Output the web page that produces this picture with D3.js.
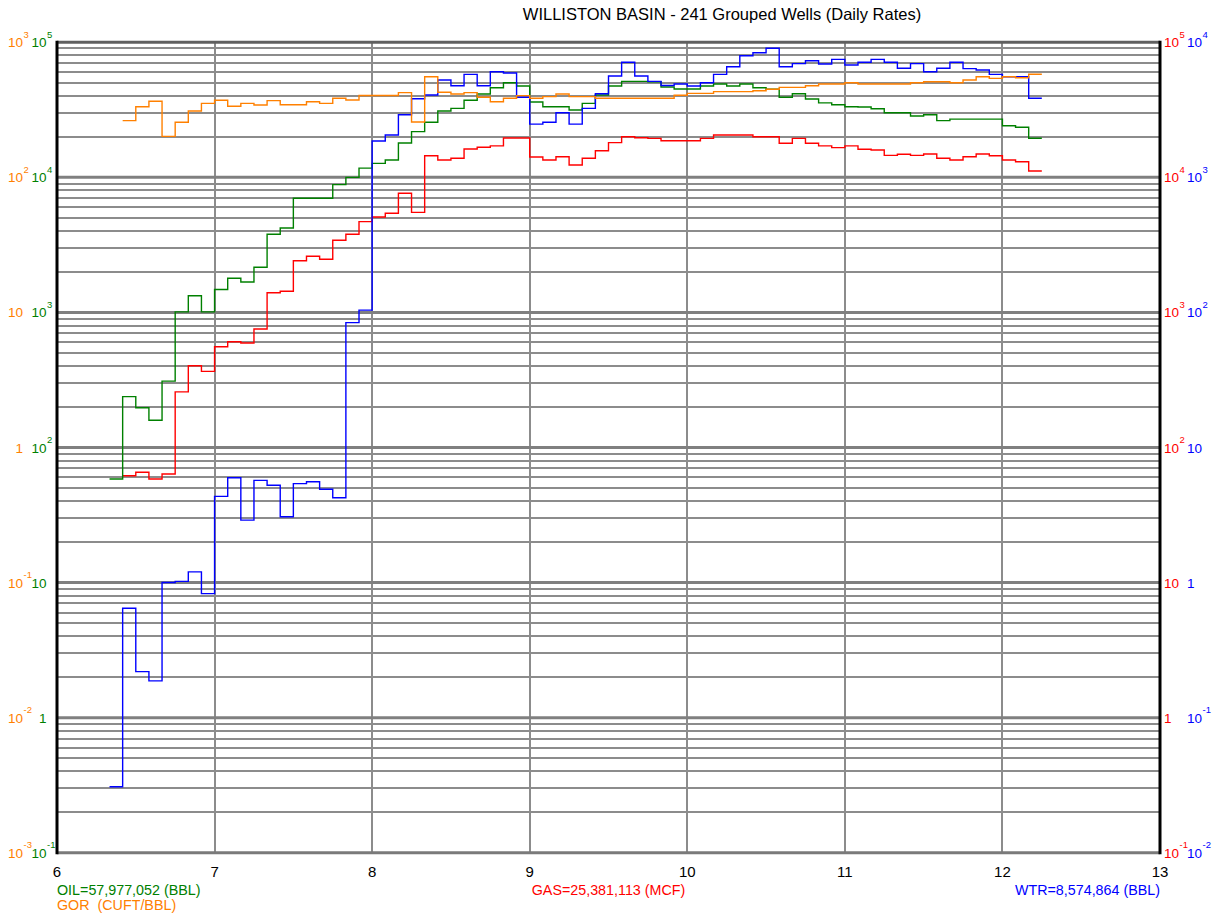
<!DOCTYPE html>
<html><head><meta charset="utf-8">
<script src="https://cdn.jsdelivr.net/npm/d3@7"></script>
<style>
body{margin:0;background:#fff}
text{font-family:"Liberation Sans",Arial,Helvetica,sans-serif}
</style>
</head><body>
<svg id="chart" width="1224" height="916"></svg>
<script>
// ---- DATA (monthly step values, first month starts at 6 + 4/12) ----
const firstMonth = 6 + 4 / 12;
const monthStep = 1 / 12;
const xTicks = [6, 7, 8, 9, 10, 11, 12, 13];

const oil = [58.5, 238, 197, 159, 310, 1010, 1330, 1010, 1480, 1790,
  1680, 2160, 3790, 4220, 7000, 7000, 7000, 8830, 10000, 11700,
  12700, 13450, 17950, 21800, 25600, 31000, 32400, 37200, 41400, 46100,
  50200, 47500, 36100, 33300, 33300, 31500, 35300, 40700, 47500, 51400,
  51400, 51000, 46700, 45100, 45100, 47500, 49100, 47500, 49100, 46100,
  44900, 39200, 41600, 38000, 35600, 34500, 33300, 33200, 32200, 30100,
  30100, 28500, 29100, 26300, 27000, 27000, 27000, 27000, 24100, 23500,
  19500];

const gas = [null, 61.8, 65.5, 58.5, 63.7, 258, 403, 366, 557, 607,
  594, 754, 1400, 1435, 2415, 2605, 2473, 3420, 3790, 4700,
  5090, 5420, 7620, 5510, 14450, 13450, 13840, 16200, 16700, 17100,
  19550, 19550, 14150, 13450, 14220, 12350, 13840, 15750, 18070, 20000,
  19660, 19450, 18670, 18670, 18670, 19450, 20600, 20600, 20600, 20000,
  20000, 17870, 19450, 17870, 17100, 16590, 17100, 16140, 15950, 14560,
  14830, 14560, 14890, 13840, 13450, 14220, 14890, 14450, 13450, 13060,
  11150];

const water = [0.0308, 0.645, 0.219, 0.187, 1.0, 1.02, 1.20, 0.828, 4.35, 5.97,
  2.90, 5.71, 5.25, 3.07, 5.40, 5.58, 4.91, 4.25, 84, 104,
  1860, 2060, 2910, 3820, 4070, 5260, 4770, 5790, 4770, 6060,
  5930, 3920, 2480, 2560, 3010, 2480, 3240, 4160, 5630, 7110,
  5630, 5140, 4790, 4910, 4750, 5020, 5790, 6590, 7960, 8370,
  9030, 6590, 6950, 7310, 6900, 7480, 6790, 7110, 7480, 7110,
  6420, 6950, 6060, 6420, 7110, 6380, 6240, 5790, 5560, 5560,
  3850];

const gor = [null, 263, 333, 366, 201, 256, 310, 353, 372, 336,
  353, 343, 370, 345, 345, 363, 353, 385, 374, 404,
  404, 404, 424, 257, 556, 427, 414, 424, 392, 363,
  385, 403, 385, 396, 414, 396, 396, 385, 385, 385,
  385, 385, 385, 405, 419, 419, 431, 431, 431, 438,
  449, 464, 464, 477, 491, 491, 502, 491, 491, 491,
  491, 502, 511, 511, 502, 526, 556, 541, 556, 547,
  580];

const gorExps = [-3, -2, -1, 0, 1, 2, 3];
const oilExps = [-1, 0, 1, 2, 3, 4, 5];
const gasExps = [-1, 0, 1, 2, 3, 4, 5];
const wtrExps = [-2, -1, 0, 1, 2, 3, 4];

const titleText = "WILLISTON BASIN - 241 Grouped Wells (Daily Rates)";
const oilLegend = "OIL=57,977,052 (BBL)";
const gorLegend = "GOR  (CUFT/BBL)";
const gasLegend = "GAS=25,381,113 (MCF)";
const wtrLegend = "WTR=8,574,864 (BBL)";

// ---- LAYOUT ----
const L = 57, R = 1160, T = 42.3, B = 852.7;
const C = {oil: "#008000", gas: "#ff0000", wtr: "#0000ff", gor: "#ff8000"};

const svg = d3.select("#chart");
const x = d3.scaleLinear().domain([6, 13]).range([L, R]);
const yOil = d3.scaleLog().domain([1e-1, 1e5]).range([B, T]);
const yGas = d3.scaleLog().domain([1e-1, 1e5]).range([B, T]);
const yWtr = d3.scaleLog().domain([1e-2, 1e4]).range([B, T]);
const yGor = d3.scaleLog().domain([1e-3, 1e3]).range([B, T]);

// grid: minor horizontal lines
const grid = svg.append("g");
const minor = [];
for (let e = -1; e < 5; e++) for (let m = 2; m <= 9; m++) minor.push(m * Math.pow(10, e));
grid.selectAll("line.minor").data(minor).join("line")
  .attr("x1", L).attr("x2", R)
  .attr("y1", d => Math.round(yOil(d))).attr("y2", d => Math.round(yOil(d)))
  .attr("stroke", "#8c8c8c").attr("stroke-width", 2);
// vertical lines
grid.selectAll("line.v").data(xTicks.slice(1, -1)).join("line")
  .attr("x1", d => Math.round(x(d))).attr("x2", d => Math.round(x(d)))
  .attr("y1", T).attr("y2", B)
  .attr("stroke", "#8c8c8c").attr("stroke-width", 2);
// major horizontal lines
grid.selectAll("line.major").data(oilExps.slice(1, -1)).join("line")
  .attr("x1", L).attr("x2", R)
  .attr("y1", d => yOil(Math.pow(10, d))).attr("y2", d => yOil(Math.pow(10, d)))
  .attr("stroke", "#808080").attr("stroke-width", 3);

// frame
svg.append("line").attr("x1", L).attr("x2", R).attr("y1", T).attr("y2", T).attr("stroke", "#606060").attr("stroke-width", 3);
svg.append("line").attr("x1", L).attr("x2", R).attr("y1", B).attr("y2", B).attr("stroke", "#7a7a7a").attr("stroke-width", 3);
svg.append("line").attr("x1", L).attr("x2", L).attr("y1", T - 1.5).attr("y2", B + 1.5).attr("stroke", "#000").attr("stroke-width", 3);
svg.append("line").attr("x1", R).attr("x2", R).attr("y1", T - 1.5).attr("y2", B + 1.5).attr("stroke", "#000").attr("stroke-width", 3);

// series
function stepLine(values, yScale, color) {
  const pts = values.map((v, i) => ({t: firstMonth + i * monthStep, v}));
  const last = values[values.length - 1];
  pts.push({t: firstMonth + values.length * monthStep, v: last});
  const line = d3.line()
    .defined(d => d.v != null)
    .x(d => x(d.t)).y(d => yScale(d.v))
    .curve(d3.curveStepAfter);
  svg.append("path").attr("d", line(pts))
    .attr("fill", "none").attr("stroke", color).attr("stroke-width", 1.4);
}
stepLine(gas, yGas, C.gas);
stepLine(oil, yOil, C.oil);
stepLine(water, yWtr, C.wtr);
stepLine(gor, yGor, C.gor);

// y labels
function baseOf(e) { return e === 0 ? "1" : "10"; }
function supOf(e) { return (e === 0 || e === 1) ? "" : String(e); }
function leftLabel(exp, scale, baseRight, color) {
  const y = scale(Math.pow(10, exp));
  const g = svg.append("g");
  g.append("text").attr("x", baseRight).attr("y", y + 5).attr("text-anchor", "end")
    .attr("font-size", 13.5).attr("fill", color).text(baseOf(exp));
  const s = supOf(exp);
  if (s) g.append("text").attr("x", baseRight + 0.5).attr("y", y - 4.5)
    .attr("font-size", 9.5).attr("fill", color).text(s);
}
function rightLabel(exp, scale, baseLeft, color) {
  const y = scale(Math.pow(10, exp));
  const t = svg.append("text").attr("x", baseLeft).attr("y", y + 5)
    .attr("font-size", 13.5).attr("fill", color).text(baseOf(exp));
  const w = t.node().getComputedTextLength();
  const s = supOf(exp);
  if (s) svg.append("text").attr("x", baseLeft + w + 0.5).attr("y", y - 4.5)
    .attr("font-size", 9.5).attr("fill", color).text(s);
}
gorExps.forEach(e => leftLabel(e, yGor, 23, C.gor));
oilExps.forEach(e => leftLabel(e, yOil, 46.5, C.oil));
gasExps.forEach(e => rightLabel(e, yGas, 1164, C.gas));
wtrExps.forEach(e => rightLabel(e, yWtr, 1187, C.wtr));

// x labels
svg.selectAll("text.xt").data(xTicks).join("text")
  .attr("x", d => x(d)).attr("y", 877).attr("text-anchor", "middle")
  .attr("font-size", 15).attr("fill", "#000").text(d => d);

// title
svg.append("text").attr("x", 722).attr("y", 20).attr("text-anchor", "middle")
  .attr("font-size", 16.5).attr("fill", "#000").text(titleText);

// legends
svg.append("text").attr("x", L).attr("y", 895).attr("font-size", 14.3).attr("fill", C.oil).text(oilLegend);
svg.append("text").attr("x", L).attr("y", 910).attr("font-size", 14.3).attr("fill", C.gor)
  .style("white-space", "pre").text(gorLegend);
svg.append("text").attr("x", (L + R) / 2).attr("y", 895).attr("text-anchor", "middle").attr("font-size", 14.3).attr("fill", C.gas).text(gasLegend);
svg.append("text").attr("x", R).attr("y", 895).attr("text-anchor", "end").attr("font-size", 14.3).attr("fill", C.wtr).text(wtrLegend);
</script>
</body></html>
